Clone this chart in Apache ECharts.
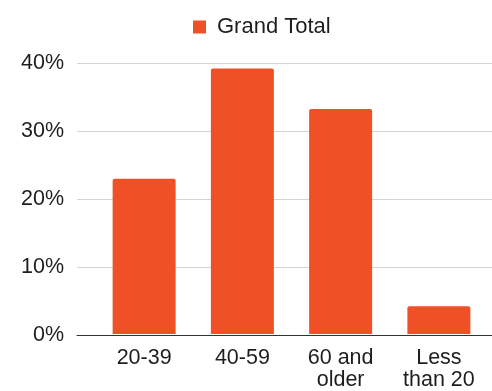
<!DOCTYPE html>
<html>
<head>
<meta charset="utf-8">
<script src="https://cdn.jsdelivr.net/npm/echarts@6/dist/echarts.min.js"></script>
<style>
  html, body { margin: 0; padding: 0; background: #fff; }
  #chart { width: 492px; height: 391px; }
</style>
</head>
<body>
<div id="chart"></div>
<script>
// Age groups and their share of the grand total (percent)
const categories = ['20-39', '40-59', '60 and\nolder', 'Less\nthan 20'];
const grandTotal = [22.9, 39.2, 33.2, 4.1];
const seriesName = 'Grand Total';

const FONT = 'Liberation Sans, Arial, sans-serif';
const TEXT = '#1e1e1e';
const BAR = '#EF5026';

const chart = echarts.init(document.getElementById('chart'), null, { renderer: 'canvas' });

chart.setOption({
  animation: false,
  backgroundColor: '#ffffff',
  legend: {
    data: [seriesName],
    top: 16,
    left: 193,
    padding: 0,
    icon: 'rect',
    itemWidth: 13,
    itemHeight: 13,
    textStyle: { fontFamily: FONT, fontSize: 22, color: TEXT, padding: [0, 0, 0, 6] }
  },
  grid: [
    // wide grid carrying the value axis, gridlines and baseline
    { left: 77, right: 0, top: 63, bottom: 56 },
    // inner grid holding the category bars
    { left: 95, right: 4, top: 63, bottom: 56 }
  ],
  xAxis: [
    {
      gridIndex: 0, type: 'value', min: 0, max: 1,
      axisLine: { show: true, lineStyle: { color: '#333333', width: 1 } },
      axisTick: { show: false }, axisLabel: { show: false }, splitLine: { show: false }
    },
    {
      gridIndex: 1, type: 'category', data: categories,
      axisLine: { show: false }, axisTick: { show: false },
      axisLabel: {
        fontFamily: FONT, fontSize: 21.5, color: TEXT,
        lineHeight: 22, margin: 13, interval: 0
      }
    }
  ],
  yAxis: [
    {
      gridIndex: 0, type: 'value', min: 0, max: 40, interval: 10,
      axisLine: { show: false }, axisTick: { show: false },
      axisLabel: { formatter: '{value}%', fontFamily: FONT, fontSize: 21.5, color: TEXT, margin: 13 },
      splitLine: { lineStyle: { color: '#d4d4d4', width: 1 } }
    },
    {
      gridIndex: 1, type: 'value', min: 0, max: 40, interval: 10,
      show: false, splitLine: { show: false }
    }
  ],
  series: [
    {
      name: seriesName,
      type: 'bar',
      xAxisIndex: 1,
      yAxisIndex: 1,
      data: grandTotal,
      barWidth: 63,
      itemStyle: { color: BAR, borderRadius: [2, 2, 0, 0] }
    }
  ]
});
</script>
</body>
</html>
